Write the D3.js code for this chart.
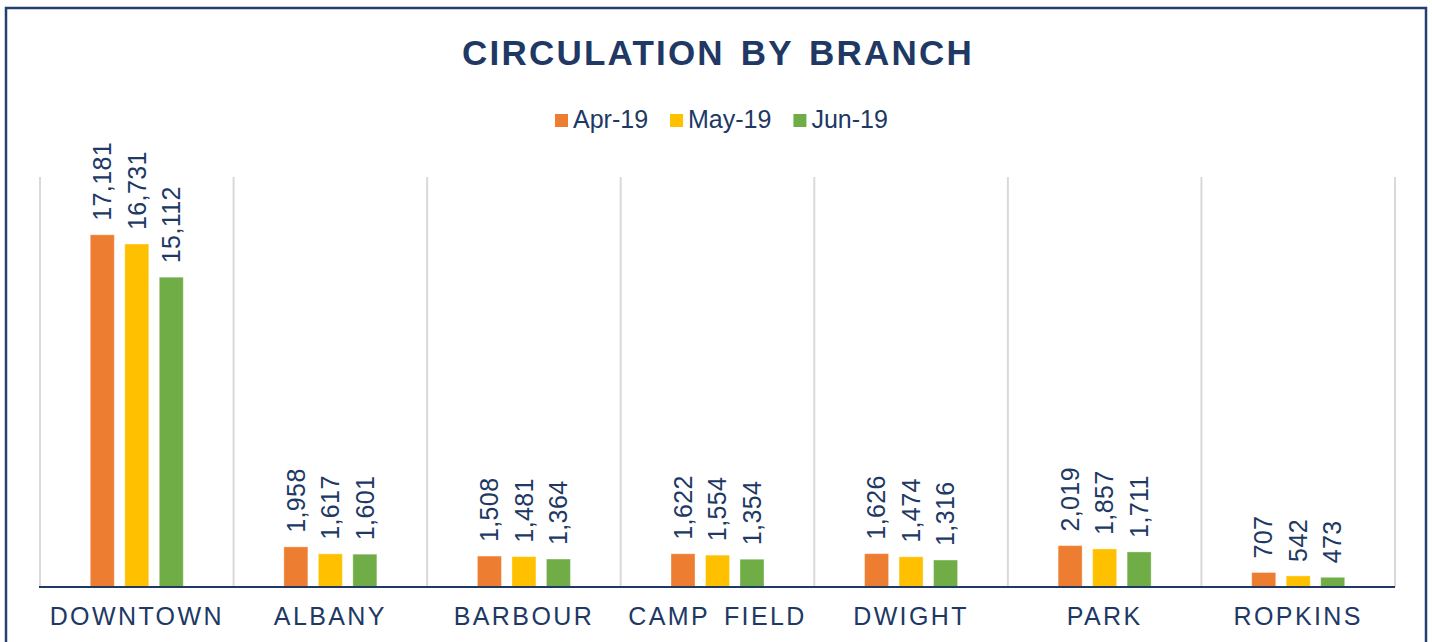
<!DOCTYPE html>
<html>
<head>
<meta charset="utf-8">
<title>Circulation by Branch</title>
<style>
body { margin: 0; background: #fff; }
text { font-family: "Liberation Sans", Arial, sans-serif; fill: #203864; }
</style>
</head>
<body>
<script src="https://cdn.jsdelivr.net/npm/d3@7"></script>
<script>

// chart data
var branches = ["DOWNTOWN", "ALBANY", "BARBOUR", "CAMP FIELD", "DWIGHT", "PARK", "ROPKINS"];
var months = ["Apr-19", "May-19", "Jun-19"];
var apr19 = [17181, 1958, 1508, 1622, 1626, 2019, 707];
var may19 = [16731, 1617, 1481, 1554, 1474, 1857, 542];
var jun19 = [15112, 1601, 1364, 1354, 1316, 1711, 473];
var colors = ["#ED7D31", "#FFC000", "#70AD47"];
var yMax = 20000;

var series = [apr19, may19, jun19];

var width = 1432,
    height = 642;

var svg = d3.select("body").append("svg")
    .attr("width", width)
    .attr("height", height);

// outer frame
svg.append("rect")
    .attr("x", 6)
    .attr("y", 8)
    .attr("width", 1420)
    .attr("height", 700)
    .attr("fill", "none")
    .attr("stroke", "#24406e")
    .attr("stroke-width", 2.5);

var x0 = d3.scaleBand()
    .domain(branches)
    .range([40, 1395])
    .padding(0);

var x1 = d3.scaleBand()
    .domain(months)
    .range([-46.5, 46.5])
    .paddingInner(0.304);

var y = d3.scaleLinear()
    .domain([0, yMax])
    .range([587, 177]);

// vertical gridlines between categories
var gridX = branches.map(function(b) { return x0(b); }).concat([x0.range()[1]]);
svg.append("g")
    .selectAll("line")
    .data(gridX)
    .enter().append("line")
    .attr("x1", function(d) { return d; })
    .attr("x2", function(d) { return d; })
    .attr("y1", y(yMax))
    .attr("y2", y(0))
    .attr("stroke", "#d9d9d9")
    .attr("stroke-width", 2);

// bars
var rows = [];
branches.forEach(function(b, i) {
  months.forEach(function(m, j) {
    rows.push({branch: b, month: m, value: series[j][i], color: colors[j]});
  });
});

var cx = function(d) { return x0(d.branch) + x0.bandwidth() / 2 + x1(d.month); };

svg.append("g")
    .selectAll("rect")
    .data(rows)
    .enter().append("rect")
    .attr("x", cx)
    .attr("width", x1.bandwidth())
    .attr("y", function(d) { return y(d.value); })
    .attr("height", function(d) { return y(0) - y(d.value); })
    .attr("fill", function(d) { return d.color; })
    .attr("stroke", "#fff")
    .attr("stroke-opacity", 0.35)
    .attr("stroke-width", 1);

// value labels, rotated
var fmt = d3.format(",");
svg.append("g")
    .selectAll("text")
    .data(rows)
    .enter().append("text")
    .attr("transform", function(d) {
      return "translate(" + (cx(d) + x1.bandwidth() / 2) + "," + (y(d.value) - 14) + ") rotate(-90)";
    })
    .attr("dy", "0.35em")
    .style("font-size", "25px")
    .style("letter-spacing", "0.4px")
    .text(function(d) { return fmt(d.value); });

// x axis line
svg.append("line")
    .attr("x1", 39)
    .attr("x2", 1395)
    .attr("y1", y(0))
    .attr("y2", y(0))
    .attr("stroke", "#203864")
    .attr("stroke-width", 2);

// category labels
svg.append("g")
    .selectAll("text")
    .data(branches)
    .enter().append("text")
    .attr("x", function(d) { return x0(d) + x0.bandwidth() / 2; })
    .attr("y", 625)
    .attr("text-anchor", "middle")
    .style("font-size", "25px")
    .style("letter-spacing", "2.4px")
    .style("word-spacing", "5px")
    .text(function(d) { return d; });

// title
svg.append("text")
    .attr("x", 718)
    .attr("y", 65)
    .attr("text-anchor", "middle")
    .style("font-size", "35px")
    .style("font-weight", "bold")
    .style("letter-spacing", "2.2px")
    .style("word-spacing", "4px")
    .text("CIRCULATION BY BRANCH");

// legend
var legend = svg.append("g");
var lx = 555;
months.forEach(function(m, j) {
  legend.append("rect")
      .attr("x", lx)
      .attr("y", 114)
      .attr("width", 13)
      .attr("height", 13)
      .attr("fill", colors[j]);
  var t = legend.append("text")
      .attr("x", lx + 18)
      .attr("y", 128)
      .style("font-size", "25px")
      .text(m);
  lx += 18 + t.node().getComputedTextLength() + 22;
});

</script>
</body>
</html>
